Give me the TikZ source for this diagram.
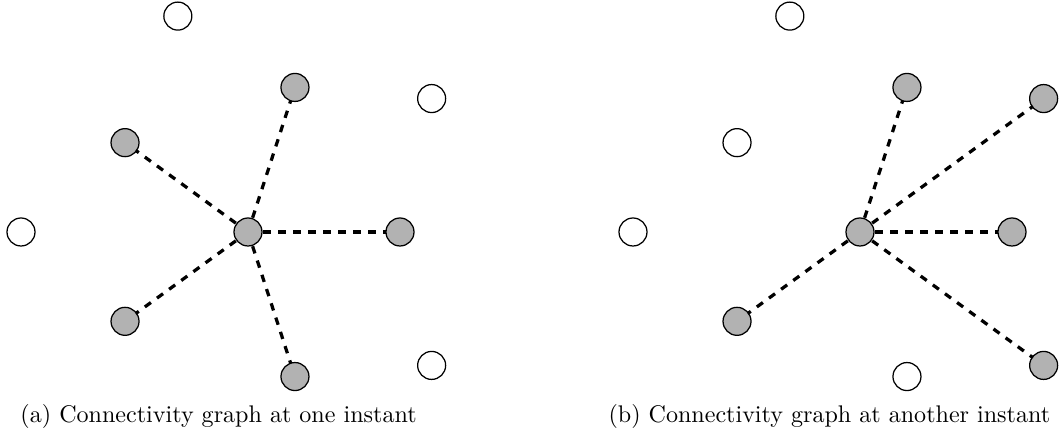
\documentclass[tikz,border=0pt]{standalone}
\usetikzlibrary{backgrounds}
\tikzset{
  on/.style={circle,draw=black,line width=0.5pt,fill=black!30,minimum size=11.2pt,inner sep=0pt},
  off/.style={circle,draw=black,line width=0.5pt,fill=white,minimum size=11.2pt,inner sep=0pt},
  link/.style={line width=1.3pt,dash pattern=on 3pt off 3pt},
  captext/.style={anchor=base west,inner sep=0pt,font=\fontsize{9.63}{11}\selectfont}
}
\begin{document}
\begin{tikzpicture}[x=0.4pt,y=0.4pt]
\useasboundingbox (0,0) rectangle (1062,438);
% panel (a)
\begin{scope}[shift={(248,206)}]
  \node[on]  (ac) at (0,0) {};
  \node[on]  (a72) at (72:152) {};
  \node[on]  (a0) at (0:152) {};
  \node[on]  (a144) at (144:152) {};
  \node[on]  (am144) at (-144:152) {};
  \node[on]  (am72) at (-72:152) {};
  \node[off] (a36) at (36:227) {};
  \node[off] (a108) at (108:227) {};
  \node[off] (a180) at (180:227) {};
  \node[off] (am36) at (-36:227) {};
  \begin{scope}[on background layer]
    \foreach \n in {a72,a0,a144,am144,am72}
      \draw[link] (ac.center) -- (\n.center);
  \end{scope}
\end{scope}
% panel (b)
\begin{scope}[shift={(860,206)}]
  \node[on]  (bc) at (0,0) {};
  \node[on]  (b72) at (72:152) {};
  \node[on]  (b0) at (0:152) {};
  \node[off] (b144) at (144:152) {};
  \node[on]  (bm144) at (-144:152) {};
  \node[off] (bm72) at (-72:152) {};
  \node[on]  (b36) at (36:227) {};
  \node[off] (b108) at (108:227) {};
  \node[off] (b180) at (180:227) {};
  \node[on]  (bm36) at (-36:227) {};
  \begin{scope}[on background layer]
    \foreach \n in {b72,b36,b0,bm144,bm36}
      \draw[link] (bc.center) -- (\n.center);
  \end{scope}
\end{scope}
\node[captext] (capa) at (20,15) {(a) Connectivity graph at one instant};
\node[captext] (capb) at (608,15) {(b) Connectivity graph at another instant};
\end{tikzpicture}
\end{document}
